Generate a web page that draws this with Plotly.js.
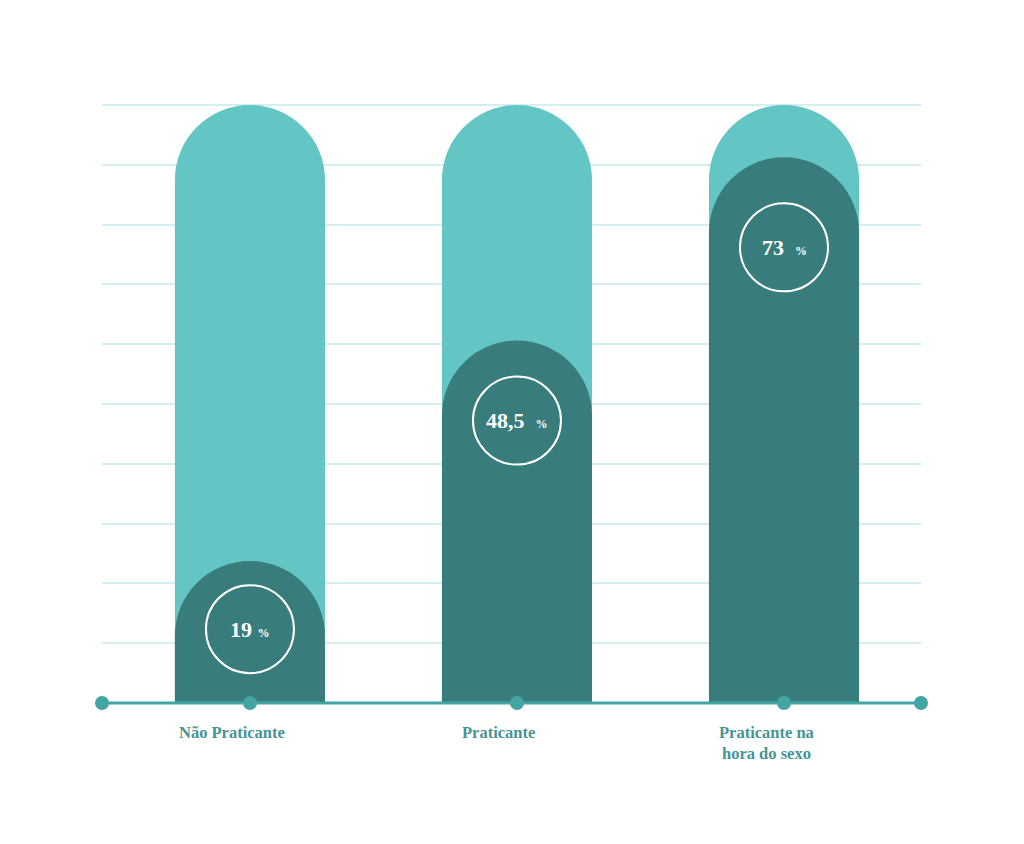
<!DOCTYPE html>
<html>
<head>
<meta charset="utf-8">
<script src="https://cdn.plot.ly/plotly-3.0.1.min.js"></script>
<style>html,body{margin:0;padding:0;background:#fff;}#chart{width:1024px;height:844px;}</style>
</head>
<body>
<div id="chart"></div>
<script>
var categories = ['Não Praticante', 'Praticante', 'Praticante na<br>hora do sexo'];
var values = [19, 48.5, 73];
var valueLabels = ['19', '48,5', '73'];
var maxValue = 80;
var background = categories.map(function(){ return maxValue; });

var xs = [0, 1, 2];
var xRange = [-0.554, 2.513];
var serif = 'Liberation Serif, DejaVu Serif, serif';
var barW = 0.562;

function circleY(v){ return v * 0.946 - 8.1; }

var bgBars = {
  type: 'bar', x: xs, y: background, width: barW,
  marker: {color: '#63c6c4', cornerradius: 75},
  hoverinfo: 'skip', showlegend: false
};
var valBars = {
  type: 'bar', x: xs, y: values, width: barW, xaxis: 'x2',
  marker: {color: '#387d7b', cornerradius: 75},
  hoverinfo: 'skip', showlegend: false
};
var circles = {
  type: 'scatter', mode: 'markers', x: xs, xaxis: 'x2',
  y: values.map(circleY),
  marker: {size: 88, color: 'rgba(0,0,0,0)', line: {color: '#ffffff', width: 2}},
  hoverinfo: 'skip', showlegend: false, cliponaxis: false
};
var dots = {
  type: 'scatter', mode: 'markers', xaxis: 'x2',
  x: [xRange[0]].concat(xs).concat([xRange[1]]),
  y: [0, 0, 0, 0, 0],
  marker: {size: 14, color: '#43a5a3'},
  hoverinfo: 'skip', showlegend: false, cliponaxis: false
};

var annotations = xs.map(function(x, i){
  return {
    x: x, y: circleY(values[i]), xref: 'x', yref: 'y', showarrow: false,
    text: '<b>' + valueLabels[i] + (i === 0 ? ' ' : '  ') + '<span style="font-size:12px">%</span></b>',
    font: {family: serif, size: 22, color: '#ffffff'}
  };
});
xs.forEach(function(x, i){
  annotations.push({
    x: x, y: 0, xref: 'x', yref: 'y', yanchor: 'top', yshift: -18, xshift: -18,
    showarrow: false, text: '<b>' + categories[i] + '</b>',
    font: {family: serif, size: 16.5, color: '#459593'}
  });
});

var shapes = [
  {type: 'line', xref: 'paper', yref: 'paper', x0: 0, x1: 1, y0: 1, y1: 1,
   line: {color: '#d3efef', width: 2}, layer: 'below'},
  {type: 'line', xref: 'paper', yref: 'paper', x0: 0, x1: 1, y0: 0, y1: 0,
   line: {color: '#43a5a3', width: 3}, layer: 'above'}
];

var layout = {
  width: 1024, height: 844,
  margin: {l: 102, r: 103, t: 105, b: 141},
  paper_bgcolor: '#ffffff', plot_bgcolor: '#ffffff',
  barmode: 'overlay',
  xaxis: {
    range: xRange, showticklabels: false,
    showgrid: false, zeroline: false, showline: false,
    ticks: '', fixedrange: true
  },
  xaxis2: {
    range: xRange, overlaying: 'x', visible: false, fixedrange: true
  },
  yaxis: {
    range: [0, maxValue], tickvals: [8, 16, 24, 32, 40, 48, 56, 64, 72], showticklabels: false, showgrid: true,
    gridcolor: '#d3efef', gridwidth: 2, zeroline: false, showline: false, fixedrange: true
  },
  shapes: shapes,
  annotations: annotations
};

Plotly.newPlot('chart', [bgBars, valBars, circles, dots], layout, {displayModeBar: false, staticPlot: true});
</script>
</body>
</html>
